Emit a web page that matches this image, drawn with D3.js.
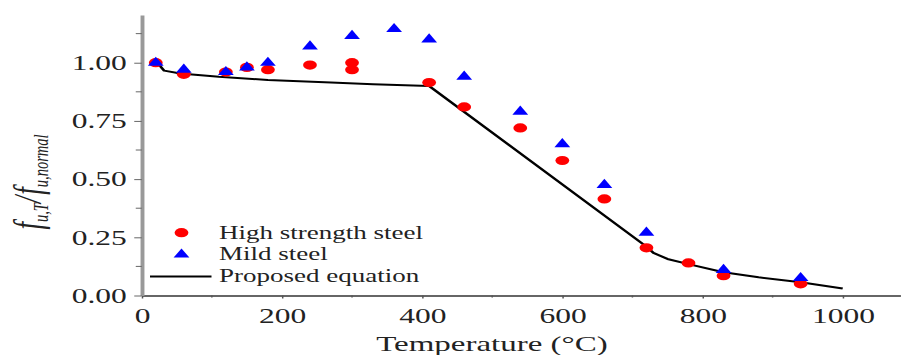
<!DOCTYPE html>
<html>
<head>
<meta charset="utf-8">
<script src="https://cdn.jsdelivr.net/npm/d3@7"></script>
<style>
  html, body { margin: 0; padding: 0; background: #fff; }
  svg { display: block; }
  text { font-family: 'Liberation Serif', 'Times New Roman', serif; fill: #222; }
</style>
</head>
<body>
<div id="chart"></div>
<script>
// High strength steel (red circles)
const hsTemp = [20, 60, 120, 150, 180, 240, 300, 300, 410, 460, 540, 600, 660, 720, 780, 830, 940];
const hsRatio = [1.00, 0.95, 0.96, 0.98, 0.97, 0.99, 1.00, 0.97, 0.915, 0.81, 0.72, 0.58, 0.415, 0.205, 0.14, 0.085, 0.05];

// Mild steel (blue triangles)
const msTemp = [20, 60, 120, 150, 180, 240, 300, 360, 410, 460, 540, 600, 660, 720, 830, 940];
const msRatio = [1.00, 0.97, 0.96, 0.98, 1.00, 1.07, 1.115, 1.145, 1.10, 0.94, 0.79, 0.65, 0.475, 0.27, 0.11, 0.075];

// Proposed equation (black line)
const eqTemp = [20, 25, 32, 55, 110, 180, 270, 330, 410, 720, 730, 750, 780, 830, 880, 940, 1000];
const eqRatio = [1.00, 0.99, 0.966, 0.954, 0.94, 0.926, 0.915, 0.908, 0.90, 0.21, 0.183, 0.157, 0.135, 0.10, 0.078, 0.057, 0.03];

const xTicks = [0, 200, 400, 600, 800, 1000];
const xMinor = [100, 300, 500, 700, 900];
const yTicks = [0, 0.25, 0.5, 0.75, 1.0];
const yMinor = [0.125, 0.375, 0.625, 0.875, 1.125];

// the reference picture is stretched horizontally, so draw in a narrower box
const stretch = 1.5;
const W = 901 / stretch;
const H = 355;

const svg = d3.select('#chart')
  .append('svg')
  .attr('width', 901)
  .attr('height', H)
  .attr('viewBox', `0 0 ${W} ${H}`)
  .attr('preserveAspectRatio', 'none');

const x0 = 94.5, x1000 = 561.8;
const x = d3.scaleLinear()
  .domain([0, 1082])
  .range([x0, x0 + (x1000 - x0) * 1.082]);
const y = d3.scaleLinear().domain([0, 1.205]).range([295.5, 15]);

// Axes
const gx = svg.append('g').attr('transform', `translate(0,${y(0)})`);
gx.call(d3.axisBottom(x).tickValues(xTicks).tickSize(3).tickSizeOuter(0).tickFormat(d3.format('d')));
gx.select('.domain').attr('stroke', '#333').attr('stroke-width', 1.5);
gx.selectAll('.tick line').attr('stroke', '#555');
gx.selectAll('.tick text')
  .attr('y', 27.5).attr('dy', 0)
  .style('font-size', '21px');
gx.selectAll('.minor')
  .data(xMinor).enter().append('line')
  .attr('class', 'minor')
  .attr('x1', (d) => x(d)).attr('x2', (d) => x(d))
  .attr('y1', 0).attr('y2', 2)
  .attr('stroke', '#555');

const gy = svg.append('g').attr('transform', `translate(${x(0)},0)`);
gy.call(d3.axisLeft(y).tickValues(yTicks).tickSize(5).tickPadding(5).tickSizeOuter(0).tickFormat(d3.format('.2f')));
gy.select('.domain').attr('stroke', '#999').attr('stroke-width', 2.6);
gy.selectAll('.tick line').attr('stroke', '#666');
gy.selectAll('.tick text').style('font-size', '21px');
gy.selectAll('.minor')
  .data(yMinor).enter().append('line')
  .attr('class', 'minor')
  .attr('x1', -4).attr('x2', 0)
  .attr('y1', (d) => y(d)).attr('y2', (d) => y(d))
  .attr('stroke', '#666');

// Proposed equation line
const eqData = eqTemp.map((t, i) => [t, eqRatio[i]]);
svg.append('path')
  .datum(eqData)
  .attr('fill', 'none')
  .attr('stroke', '#000')
  .attr('stroke-width', 2)
  .attr('stroke-linejoin', 'round')
  .attr('d', d3.line().x((d) => x(d[0])).y((d) => y(d[1])));

// High strength steel points
svg.selectAll('.hs')
  .data(hsTemp.map((t, i) => [t, hsRatio[i]]))
  .enter()
  .append('circle')
  .attr('class', 'hs')
  .attr('cx', (d) => x(d[0]))
  .attr('cy', (d) => y(d[1]))
  .attr('r', 4.6)
  .attr('fill', '#ff0000');

// Mild steel points
const tri = d3.symbol().type(d3.symbolTriangle).size(48);
svg.selectAll('.ms')
  .data(msTemp.map((t, i) => [t, msRatio[i]]))
  .enter()
  .append('path')
  .attr('class', 'ms')
  .attr('d', tri)
  .attr('transform', (d) => `translate(${x(d[0])},${y(d[1])})`)
  .attr('fill', '#0000ff');

// Legend
const legend = svg.append('g');
legend.append('circle').attr('cx', 121).attr('cy', 232.7).attr('r', 4.6).attr('fill', '#ff0000');
legend.append('path').attr('d', tri).attr('transform', 'translate(121,254.5)').attr('fill', '#0000ff');
legend.append('line')
  .attr('x1', 100).attr('x2', 141).attr('y1', 276.5).attr('y2', 276.5)
  .attr('stroke', '#000').attr('stroke-width', 2);
const legendLabels = ['High strength steel', 'Mild steel', 'Proposed equation'];
legend.selectAll('.lab')
  .data(legendLabels)
  .enter()
  .append('text')
  .attr('class', 'lab')
  .attr('x', 146)
  .attr('y', (_, i) => [232.7, 254, 276.5][i])
  .attr('dy', '0.33em')
  .style('font-size', '18px')
  .text((d) => d);

// Axis titles
svg.append('text')
  .attr('x', 328)
  .attr('y', 351)
  .attr('text-anchor', 'middle')
  .style('font-size', '22px')
  .text('Temperature (°C)');

const yt = svg.append('text')
  .attr('transform', 'translate(27,182) rotate(-90)')
  .attr('text-anchor', 'middle')
  .style('font-size', '27px')
  .style('font-style', 'italic');
yt.append('tspan').text('f');
yt.append('tspan').attr('dy', 5).style('font-size', '14.5px').text('u,T');
yt.append('tspan').attr('dy', -5).text('/');
yt.append('tspan').attr('dx', 1).text('f');
yt.append('tspan').attr('dy', 5).style('font-size', '14.5px').text('u,normal');
</script>
</body>
</html>
